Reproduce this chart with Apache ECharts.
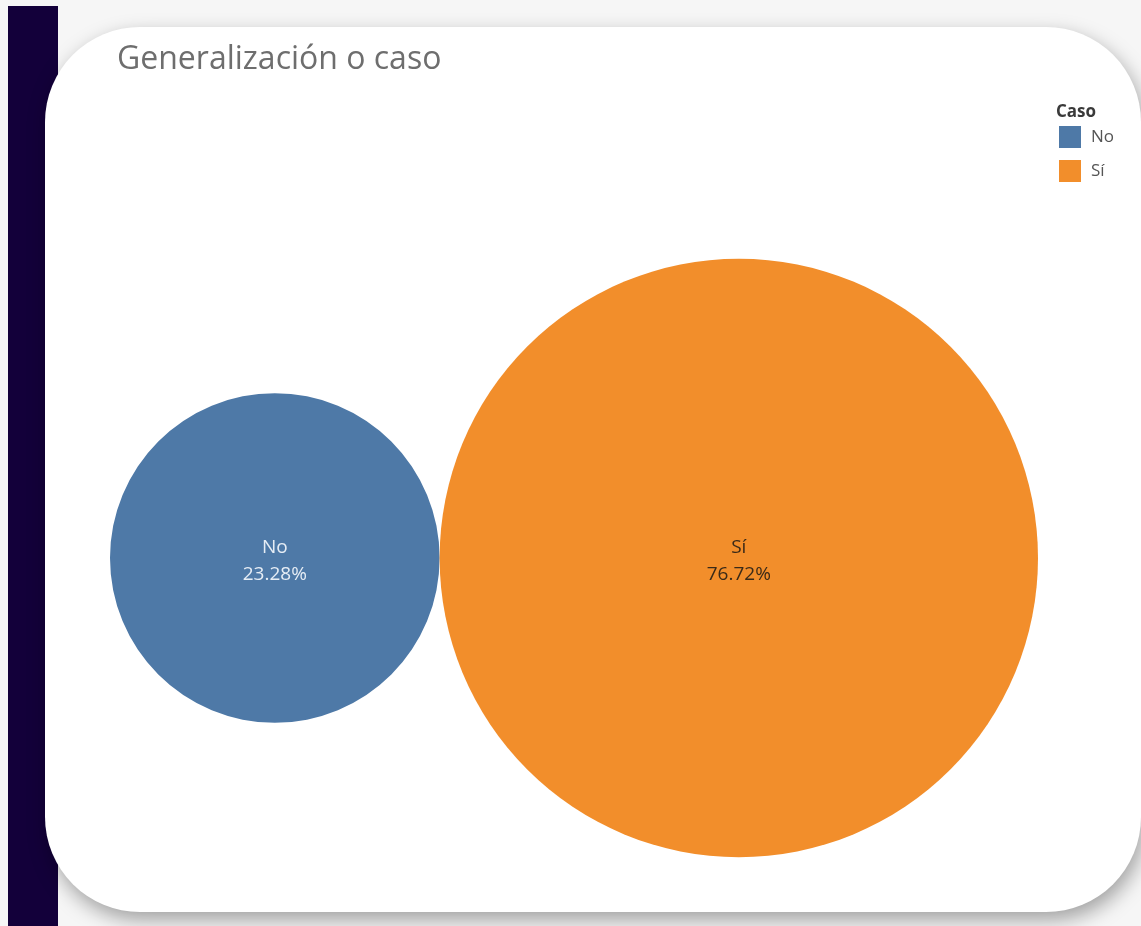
<!DOCTYPE html>
<html>
<head>
<meta charset="utf-8">
<script src="https://cdn.jsdelivr.net/npm/echarts@6/dist/echarts.min.js"></script>
<style>
html,body{margin:0;padding:0;background:#ffffff;}
#chart{width:1141px;height:926px;}
</style>
</head>
<body>
<div id="chart"></div>
<script>
const categories = ['No', 'Sí'];
const shares = [23.28, 76.72];
const colors = ['#4E79A7', '#F28E2B'];
const labelColors = ['#e6edf5', '#3a2a18'];
const titleText = 'Generalización o caso';
const legendTitle = 'Caso';

// area-proportional radii, circles packed side by side
const radii = shares.map(v => Math.sqrt(v));
const centers = [];
let acc = 0;
radii.forEach(r => { centers.push(acc + r); acc += 2 * r; });
const total = acc;
const rMax = Math.max(...radii);

const chart = echarts.init(document.getElementById('chart'), null, {renderer: 'canvas'});

const series = categories.map((c, i) => ({
  type: 'custom',
  name: c,
  itemStyle: {color: colors[i]},
  encode: {x: 0, y: 1},
  data: [[centers[i], 0, radii[i], shares[i]]],
  renderItem: function (params, api) {
    const p = api.coord([api.value(0), api.value(1)]);
    const r = api.size([api.value(2), 0])[0];
    return {
      type: 'group',
      children: [
        {type: 'circle', shape: {cx: p[0], cy: p[1], r: r}, style: {fill: colors[i]}},
        {type: 'text', style: {
          text: c + '\n' + api.value(3).toFixed(2) + '%',
          x: p[0], y: p[1] + 3, align: 'center', verticalAlign: 'middle',
          fill: labelColors[i], fontSize: 19, fontFamily: '"Open Sans", sans-serif', lineHeight: 27
        }}
      ]
    };
  }
}));

chart.setOption({
  animation: false,
  backgroundColor: '#ffffff',
  title: [
    {text: titleText, left: 112, top: 39, textStyle: {fontSize: 32, fontWeight: 'normal', color: '#6e6e6e', fontFamily: '"Open Sans", sans-serif'}},
    {text: legendTitle, left: 1051, top: 99, textStyle: {fontSize: 17, fontWeight: 'bold', color: '#3a3a3a', fontFamily: '"Open Sans", sans-serif'}}
  ],
  legend: {
    orient: 'vertical', left: 1054, top: 121, icon: 'rect',
    itemWidth: 22, itemHeight: 22, itemGap: 12,
    textStyle: {fontSize: 17, color: '#555', fontFamily: '"Open Sans", sans-serif', padding: [0, 0, 0, 5]},
    data: categories
  },
  graphic: [
    {type: 'rect', z: -20, shape: {x: 0, y: 0, width: 1141, height: 926}, style: {fill: '#f6f6f6'}},
    {type: 'rect', z: -19, shape: {x: 8, y: 6, width: 50, height: 920}, style: {fill: '#13003a'}},
    {type: 'rect', z: -18, shape: {x: 45, y: 27, width: 1096, height: 885, r: 95},
      style: {fill: '#ffffff', shadowBlur: 20, shadowOffsetY: 8, shadowOffsetX: 3, shadowColor: 'rgba(0,0,0,0.35)'}}
  ],
  grid: {left: 110, width: 928, top: 259, height: 598},
  xAxis: {type: 'value', min: 0, max: total, show: false},
  yAxis: {type: 'value', min: -rMax, max: rMax, show: false},
  series: series
});
</script>
</body>
</html>
